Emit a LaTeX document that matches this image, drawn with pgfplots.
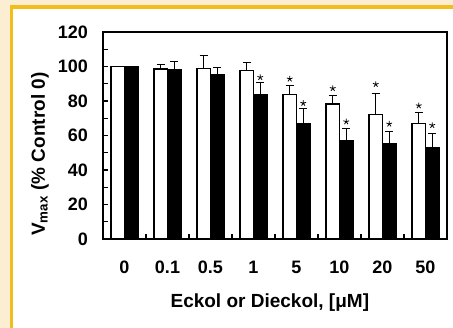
\documentclass[border=0pt]{standalone}
\usepackage{fontspec}
\setmainfont{Liberation Sans}
\usepackage{pgfplots}
\pgfplotsset{compat=1.18}
\definecolor{bgbeige}{RGB}{251,238,211}
\definecolor{bggold}{RGB}{244,190,26}
\begin{document}
\begin{tikzpicture}[x=1pt,y=1pt]
\useasboundingbox (0,0) rectangle (453,328);
\fill[bgbeige] (0,0) rectangle (453,328);
\fill[white] (13,0) rectangle (453,319);
\fill[bggold] (10,0) rectangle (13,323);
\fill[bggold] (10,319) rectangle (453,323);
\begin{axis}[
  at={(103pt,89pt)}, anchor=south west,
  scale only axis, width=344pt, height=207pt,
  xmin=-0.5, xmax=7.5, ymin=0, ymax=120,
  axis line style={line width=1.6pt},
  xtick={0,1,2,3,4,5,6,7},
  xticklabels={0,0.1,0.5,1,5,10,20,50},
  minor xtick={0.5,1.5,2.5,3.5,4.5,5.5,6.5},
  ytick={0,20,40,60,80,100,120},
  minor ytick={10,30,50,70,90,110},
  tick align=inside,
  xtick pos=bottom, ytick pos=left,
  major tick length=5pt, minor tick length=5pt,
  tick style={line width=1.2pt, black},
  major x tick style={draw=none},
  /pgf/number format/assume math mode=true,
  ticklabel style={font=\fontsize{18}{18}\selectfont\bfseries, inner sep=0pt},
  xticklabel style={anchor=north, yshift=-21.5pt},
  yticklabel style={anchor=east, xshift=-15pt},
  xlabel={Eckol or Dieckol, [μM]},
  ylabel={V\textsubscript{max} (\% Control 0)},
  label style={font=\fontsize{19}{19}\selectfont\bfseries},
  xlabel style={at={(axis description cs:0.485,-0.309)}, anchor=center},
  ylabel style={at={(axis description cs:-0.183,0.41)}, anchor=center, rotate=0},
  clip=false,
  errstyle/.style={draw=none, mark=none, forget plot,
    error bars/.cd, y dir=plus, y explicit,
    error bar style={line width=1.3pt, draw=black, solid},
    error mark options={rotate=90, mark size=4.2pt, line width=1.3pt, draw=black}},
]
\addplot[ybar, bar width=13.5pt, bar shift=-6.75pt, fill=white, draw=black, line width=1.3pt]
coordinates {
 (0,100) (1,98.5) (2,98.7) (3,97.6) (4,83.9) (5,78.3) (6,72.3) (7,67.0)
};
\addplot[ybar, bar width=13.5pt, bar shift=6.75pt, fill=black, draw=black, line width=1.3pt]
coordinates {
 (0,100) (1,98.0) (2,95.0) (3,83.5) (4,67.0) (5,56.8) (6,55.3) (7,52.8)
};
% error bars (white series), at the bar centres
\addplot[errstyle] coordinates {
 (0.843,98.5) +- (0,2.5)
 (1.843,98.7) +- (0,7.8)
 (2.843,97.6) +- (0,4.8)
 (3.843,83.9) +- (0,5.0)
 (4.843,78.3) +- (0,4.7)
 (5.843,72.3) +- (0,11.9)
 (6.843,67.0) +- (0,6.4)
};
% error bars (black series)
\addplot[errstyle] coordinates {
 (1.157,98.0) +- (0,5.0)
 (2.157,95.0) +- (0,4.3)
 (3.157,83.5) +- (0,7.1)
 (4.157,67.0) +- (0,8.5)
 (5.157,56.8) +- (0,7.4)
 (6.157,55.3) +- (0,6.9)
 (7.157,52.8) +- (0,8.2)
};
\addplot[only marks, mark=star, mark size=3pt, mark options={line width=0.8pt, black}]
coordinates {
 (3.843,92.8) (4.843,87.3) (5.843,89.7) (6.843,77.3)
};
\addplot[only marks, mark=star, mark size=3pt, mark options={line width=0.8pt, black}]
coordinates {
 (3.157,93.7) (4.157,78.7) (5.157,68.0) (6.157,66.7) (7.157,65.9)
};
\end{axis}
\end{tikzpicture}
\end{document}
